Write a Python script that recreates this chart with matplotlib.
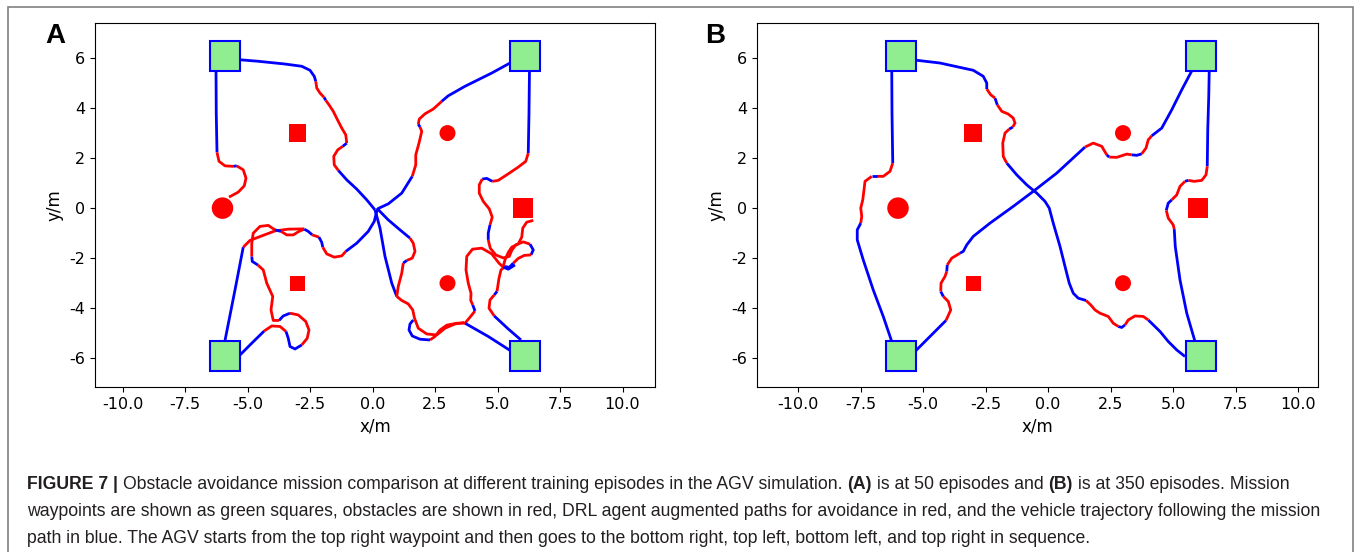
import matplotlib
matplotlib.use("Agg")
import matplotlib.pyplot as plt
from matplotlib.patches import Rectangle, Circle

plt.rcParams['axes.unicode_minus'] = False

# mission waypoints and obstacles (same scene in both panels)
waypoint_x = [6, 6, -6, -6]
waypoint_y = [6, -6, 6, -6]
box_obs_x = [-3, -3, 6]
box_obs_y = [3, -3, 0]
box_obs_side = [0.7, 0.6, 0.8]
round_obs_x = [3, 3, -6]
round_obs_y = [3, -3, 0]
round_obs_r = [0.32, 0.32, 0.43]

# ---- panel A (50 episodes); colour string: one letter per segment, b=blue r=red
a1_x = [6.28, 6.26, 6.23, 6.13, 5.83, 5.43, 5.03, 4.79, 4.57, 4.39, 4.27, 4.27, 4.43, 4.67, 4.79, 4.70, 4.63, 4.63,
        4.71, 4.93, 5.23, 5.47, 5.57, 5.73, 6.03, 6.30, 6.43, 6.34, 6.07, 5.83, 5.63, 5.47, 5.30, 5.14, 5.06, 4.98,
        4.87, 4.70, 4.66, 4.87, 5.43, 5.94]
a1_y = [5.6, 3.8, 2.2, 1.87, 1.64, 1.37, 1.11, 1.07, 1.19, 1.16, 0.93, 0.6, 0.27, -0.03, -0.36, -0.67, -1.0, -1.27,
        -1.6, -1.87, -1.99, -1.93, -1.69, -1.47, -1.35, -1.44, -1.67, -1.87, -1.89, -2.01, -2.2, -2.37, -2.33, -2.47,
        -2.8, -3.33, -3.47, -3.67, -4.0, -4.31, -4.83, -5.27]
a1_c = "bbrrrrrbbrrrrrrbbrrrrrrrrbbrrrbbrrrbrrrbb"

a2_x = [6.43, 6.17, 6.01, 5.97, 5.83, 5.57, 5.43, 5.30, 5.23]
a2_y = [-0.49, -0.56, -0.8, -1.16, -1.43, -1.56, -1.77, -2.07, -2.33]
a2_c = "rrrrrrrr"

a3_x = [3.70, 3.90, 4.10, 4.01, 3.93, 3.94, 3.83, 3.74, 3.77, 4.00, 4.37, 4.77, 5.06, 5.23, 5.43, 5.70]
a3_y = [-4.60, -4.36, -4.11, -3.87, -3.69, -3.40, -3.00, -2.47, -1.93, -1.64, -1.60, -1.83, -2.20, -2.36, -2.44, -2.27]
a3_c = "rrbrrrrrrrrrrbb"

a4_x = [5.60, 4.63, 3.70, 3.37, 2.97, 2.70, 2.50, 2.30, 1.90, 1.59, 1.46, 1.50, 1.63]
a4_y = [-5.75, -5.13, -4.60, -4.60, -4.68, -4.87, -5.13, -5.27, -5.24, -5.11, -4.87, -4.63, -4.47]
a4_c = "bbrrrrrbbbbb"

a5_x = [0.10, 0.30, 0.50, 0.77, 0.97, 1.17, 1.43, 1.61, 1.68, 1.83, 2.17, 2.57, 2.90, 3.30, 3.67]
a5_y = [-0.07, -0.80, -1.93, -3.00, -3.53, -3.69, -3.83, -4.07, -4.40, -4.80, -5.03, -5.07, -4.80, -4.63, -4.57]
a5_c = "bbbbrrrrrrrrrr"

a6_x = [0.17, 0.63, 1.10, 1.50, 1.63, 1.70, 1.59, 1.37, 1.23, 1.17, 1.03, 0.97]
a6_y = [0.00, -0.47, -0.87, -1.20, -1.40, -1.73, -2.00, -2.09, -2.20, -2.60, -3.13, -3.53]
a6_c = "bbbrrrrbrrr"

a7_x = [0.10, -0.23, -0.63, -1.03, -1.37, -1.53, -1.55, -1.39, -1.19, -1.03, -1.07, -1.23, -1.39, -1.57, -1.74,
        -1.87, -1.94, -2.10, -2.23, -2.27, -2.33, -2.50, -2.83, -3.50, -4.57, -5.30]
a7_y = [-0.07, 0.33, 0.76, 1.13, 1.51, 1.73, 2.07, 2.33, 2.47, 2.60, 2.93, 3.20, 3.51, 3.87, 4.13, 4.31, 4.43, 4.60,
        4.80, 5.07, 5.27, 5.51, 5.67, 5.76, 5.87, 5.93]
a7_c = "bbbbrrrrbrrrrrrbrrrbbbbbb"

a8_x = [-6.26, -6.25, -6.22, -6.14, -5.90, -5.57, -5.43, -5.17, -5.06, -5.13, -5.37, -5.74]
a8_y = [5.56, 3.80, 2.23, 1.87, 1.69, 1.67, 1.69, 1.53, 1.20, 0.89, 0.64, 0.44]
a8_c = "bbrrrbrrrrr"

a9_x = [-5.90, -5.50, -5.17, -4.90, -4.43, -3.90, -3.37, -2.73]
a9_y = [-5.29, -3.27, -1.56, -1.29, -1.11, -0.91, -0.84, -0.83]
a9_c = "bbrrrrr"

a10_x = [-5.30, -4.83, -4.33, -4.03, -3.70, -3.46, -3.37, -3.30, -3.10, -2.83, -2.61, -2.54, -2.67, -2.97, -3.30,
         -3.57, -3.74, -3.97, -4.06, -3.99, -4.23, -4.37, -4.59, -4.81, -4.83, -4.83, -4.77, -4.50, -4.17, -3.90,
         -3.66, -3.43, -3.17, -2.94, -2.73, -2.57, -2.41, -2.14, -2.03, -1.99, -1.83, -1.53, -1.23, -1.07, -0.63,
         -0.17, 0.07, 0.17, 0.26, 0.63, 1.17, 1.59, 1.73, 1.73, 1.86, 1.97, 1.90, 1.83, 1.87, 2.10, 2.43, 2.77,
         3.03, 3.70, 4.77, 5.50]
a10_y = [-5.87, -5.40, -4.91, -4.71, -4.73, -4.93, -5.20, -5.53, -5.63, -5.47, -5.20, -4.87, -4.53, -4.27, -4.20,
         -4.31, -4.49, -4.49, -4.07, -3.53, -3.00, -2.47, -2.27, -2.13, -1.93, -1.40, -1.00, -0.73, -0.69, -0.87,
         -0.93, -1.07, -1.07, -0.93, -0.84, -0.93, -1.07, -1.16, -1.37, -1.56, -1.83, -1.96, -1.91, -1.73, -1.40,
         -0.93, -0.53, -0.13, 0.00, 0.17, 0.60, 1.27, 1.73, 2.13, 2.60, 3.07, 3.24, 3.36, 3.56, 3.77, 3.96, 4.27,
         4.49, 4.87, 5.40, 5.80]
a10_c = "bbrrrbbbbrrrrrbbrrrrrrbbrrrrrbrrrrbbrbbrrrrbbbbbbbbrrrrrbrrrrbbbb"

# ---- panel B (350 episodes)
b1_x = [6.45, 6.43, 6.39, 6.37, 6.32, 6.15, 5.85, 5.61, 5.48, 5.28, 5.15, 4.95, 4.81, 4.73, 4.81, 5.01, 5.05, 5.09,
        5.28, 5.55, 5.88]
b1_y = [5.53, 4.47, 3.13, 1.67, 1.33, 1.11, 1.07, 1.11, 1.07, 0.87, 0.53, 0.33, 0.20, -0.09, -0.40, -0.67, -0.84,
        -1.53, -2.87, -4.20, -5.33]
b1_c = "bbbrrrrbrrrbbrrrbbbb"

b2_x = [5.48, 5.15, 4.81, 4.48, 4.01, 3.81, 3.48, 3.21, 3.08, 2.95, 2.81, 2.61, 2.41, 2.08, 1.88, 1.71, 1.52, 1.21,
        1.01, 0.85, 0.68, 0.48, 0.21, 0.05, -0.12, -0.45, -0.85, -1.25, -1.65, -1.79, -1.81, -1.72, -1.55, -1.41,
        -1.32, -1.39, -1.59, -1.85, -2.03, -2.12, -2.29, -2.45, -2.45, -2.59, -2.99, -4.32, -5.25]
b2_y = [-5.93, -5.67, -5.33, -4.93, -4.47, -4.33, -4.31, -4.47, -4.67, -4.77, -4.73, -4.60, -4.33, -4.20, -4.07,
        -3.87, -3.69, -3.60, -3.40, -3.00, -2.33, -1.53, -0.60, 0.00, 0.27, 0.60, 0.93, 1.33, 1.80, 2.07, 2.60,
        3.00, 3.16, 3.24, 3.40, 3.60, 3.76, 3.87, 4.13, 4.40, 4.53, 4.76, 5.00, 5.27, 5.51, 5.80, 5.91]
b2_c = "bbbbrrrrbbrrrrrrbbbbbbbbbbbbrrrrbrrrrrbrrbbbbb"

b3_x = [-6.25, -6.24, -6.21, -6.32, -6.59, -6.85, -7.05, -7.32, -7.36, -7.41, -7.49, -7.45, -7.49, -7.63, -7.63,
        -7.39, -6.99, -6.59, -6.25]
b3_y = [5.53, 3.80, 1.80, 1.47, 1.27, 1.27, 1.27, 1.07, 0.73, 0.33, 0.00, -0.33, -0.60, -0.87, -1.27, -2.07, -3.27,
        -4.33, -5.33]
b3_c = "bbrrrbrrrrrrbbbbbb"

b4_x = [-5.28, -4.72, -4.08, -3.89, -3.99, -4.19, -4.29, -4.28, -4.12, -4.05, -4.03, -3.85, -3.52, -3.39, -3.25,
        -2.99, -2.32, -1.39, -0.59, 0.35, 1.48, 1.81, 2.15, 2.35, 2.45, 2.75, 3.15, 3.35, 3.55, 3.75, 3.92, 4.01,
        4.15, 4.55, 4.95, 5.35, 5.79]
b4_y = [-5.69, -5.13, -4.49, -4.07, -3.73, -3.53, -3.33, -3.00, -2.73, -2.53, -2.27, -2.00, -1.80, -1.73, -1.47,
        -1.13, -0.60, 0.07, 0.67, 1.40, 2.44, 2.60, 2.47, 2.13, 2.04, 2.03, 2.16, 2.13, 2.11, 2.17, 2.40, 2.73, 2.89,
        3.20, 3.93, 4.73, 5.56]
b4_c = "bbrrrbrrrbrrbbbbbbbbrrrbrrrbbrrrbbbb"

paths_a = [(a1_x, a1_y, a1_c), (a2_x, a2_y, a2_c), (a3_x, a3_y, a3_c), (a4_x, a4_y, a4_c),
           (a5_x, a5_y, a5_c), (a6_x, a6_y, a6_c), (a7_x, a7_y, a7_c), (a8_x, a8_y, a8_c),
           (a9_x, a9_y, a9_c), (a10_x, a10_y, a10_c)]
paths_b = [(b1_x, b1_y, b1_c), (b2_x, b2_y, b2_c), (b3_x, b3_y, b3_c), (b4_x, b4_y, b4_c)]

x_ticks = [-10, -7.5, -5, -2.5, 0, 2.5, 5, 7.5, 10]
y_ticks = [-6, -4, -2, 0, 2, 4, 6]

CAP_FONT = 'Liberation Sans'
W, H = 1356, 552


def draw_path(ax, xs, ys, colors):
    # plot runs of equal colour so the joins stay clean
    n = len(xs) - 1
    cols = [colors[i] if i < len(colors) else colors[-1] for i in range(n)]
    start = 0
    for i in range(1, n + 1):
        if i == n or cols[i] != cols[start]:
            c = 'red' if cols[start] == 'r' else 'blue'
            ax.plot(xs[start:i + 1], ys[start:i + 1], color=c, lw=2.0,
                    solid_capstyle='butt', solid_joinstyle='round', zorder=2)
            start = i


def draw_panel(ax, paths, xlim, letter):
    for xs, ys, cs in paths:
        draw_path(ax, xs, ys, cs)
    for x, y in zip(waypoint_x, waypoint_y):
        ax.add_patch(Rectangle((x - 0.5, y - 0.5), 1.2, 1.2, facecolor='#90ee90',
                               edgecolor='blue', lw=1.5, zorder=3))
    for x, y, s in zip(box_obs_x, box_obs_y, box_obs_side):
        ax.add_patch(Rectangle((x - s / 2, y - s / 2), s, s, color='red', lw=0, zorder=3))
    for x, y, r in zip(round_obs_x, round_obs_y, round_obs_r):
        ax.add_patch(Circle((x, y), r, color='red', lw=0, zorder=3))
    ax.set_xlim(*xlim)
    ax.set_ylim(-7.15, 7.4)
    ax.set_xticks(x_ticks)
    ax.set_xticklabels([f'{t:.1f}' for t in x_ticks])
    ax.set_yticks(y_ticks)
    ax.set_yticklabels([str(t) for t in y_ticks])
    ax.tick_params(labelsize=11.5)
    ax.set_xlabel('x/m', fontsize=12)
    ax.set_ylabel('y/m', fontsize=12)


fig = plt.figure(figsize=(W / 100, H / 100), dpi=100)

# outer frame of the figure panel (open at the bottom)
fig.add_artist(Rectangle((8 / W, -0.2), (1353 - 8) / W, 1.2 - 7 / H, transform=fig.transFigure,
                         fill=False, edgecolor='#808080', lw=1.2, clip_on=False))

ax_a = fig.add_axes([95 / W, 1 - 387 / H, 560 / W, 364 / H])
ax_b = fig.add_axes([757 / W, 1 - 387 / H, 561 / W, 364 / H])
draw_panel(ax_a, paths_a, (-11.1, 11.3), 'A')
draw_panel(ax_b, paths_b, (-11.64, 10.8), 'B')

fig.text(45 / W, 1 - 43 / H, 'A', fontsize=20, fontweight='bold', family=CAP_FONT, va='baseline')
fig.text(705 / W, 1 - 43 / H, 'B', fontsize=20, fontweight='bold', family=CAP_FONT, va='baseline')

# caption with mixed bold / regular runs
caption = [
    [("FIGURE 7 |", True),
     ("Obstacle avoidance mission comparison at different training episodes in the AGV simulation.", False),
     ("(A)", True), ("is at 50 episodes and", False), ("(B)", True), ("is at 350 episodes. Mission", False)],
    [("waypoints are shown as green squares, obstacles are shown in red, DRL agent augmented paths for "
      "avoidance in red, and the vehicle trajectory following the mission", False)],
    [("path in blue. The AGV starts from the top right waypoint and then goes to the bottom right, top left, "
      "bottom left, and top right in sequence.", False)],
]
renderer = fig.canvas.get_renderer()


def text_width(s, size, bold=False):
    t = fig.text(0, 0, s, fontsize=size, family=CAP_FONT, fontweight='bold' if bold else 'normal')
    w = t.get_window_extent(renderer).width
    t.remove()
    return w


size = 10 * 1294 / text_width(caption[1][0][0], 10)
gap = text_width('a a', size) - text_width('aa', size)
baselines = [489, 516, 543]
for line, yb in zip(caption, baselines):
    x = 27
    for txt, bold in line:
        t = fig.text(x / W, 1 - yb / H, txt, fontsize=size, family=CAP_FONT,
                     fontweight='bold' if bold else 'normal', va='baseline', color='#231f20')
        x += t.get_window_extent(renderer).width + gap

fig.savefig('out.png', dpi=100)
